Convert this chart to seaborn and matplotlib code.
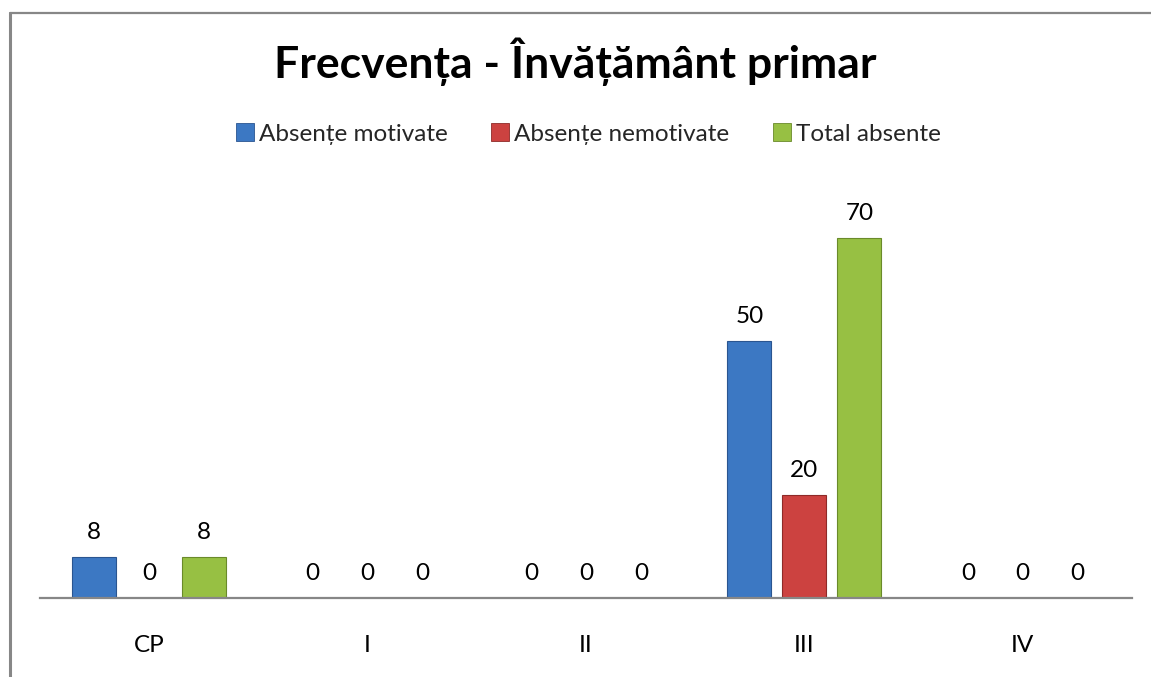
import matplotlib
matplotlib.use("Agg")
import matplotlib.pyplot as plt
import seaborn as sns
import pandas as pd
from matplotlib.patches import Rectangle

categories = ["CP", "I", "II", "III", "IV"]
series_names = ["Absențe motivate", "Absențe nemotivate", "Total absente"]
motivate = [8, 0, 0, 50, 0]
nemotivate = [0, 0, 0, 20, 0]
total = [8, 0, 0, 70, 0]
colors = ["#3C78C3", "#CC4240", "#97C043"]
edge_colors = ["#2A5590", "#8E2A28", "#6A8A2A"]

rows = []
for name, vals in zip(series_names, [motivate, nemotivate, total]):
    for c, v in zip(categories, vals):
        rows.append({"Clasa": c, "Serie": name, "Valoare": v})
df = pd.DataFrame(rows)

sns.set_theme(style="white")
plt.rcParams['font.family'] = ['Lato', 'DejaVu Sans']

W, H = 1151, 677
fig = plt.figure(figsize=(W / 100, H / 100), dpi=100)
ax = fig.add_axes([40 / W, 1 - 598 / H, (1132 - 40) / W, (598 - 187) / H])

sns.barplot(data=df, x="Clasa", y="Valoare", hue="Serie", order=categories,
            hue_order=series_names, palette=colors, width=0.755, gap=0.2,
            saturation=1, ax=ax, legend=False, errorbar=None)

for i, cont in enumerate(ax.containers):
    for p in cont.patches:
        p.set_edgecolor(edge_colors[i])
        p.set_linewidth(0.8)
    ax.bar_label(cont, labels=[str(int(v)) for v in cont.datavalues],
                 padding=10, fontsize=17.5, color="black")

ax.set_ylim(0, 80)
ax.set_xlim(-0.5, 4.5)
ax.set_xlabel("")
ax.set_ylabel("")
ax.set_yticks([])
ax.tick_params(axis="x", length=0, pad=27, labelsize=17.5, colors="black")
for s in ["left", "right", "top"]:
    ax.spines[s].set_visible(False)
ax.spines["bottom"].set_color("#878787")
ax.spines["bottom"].set_linewidth(1.6)

handles = [Rectangle((0, 0), 1, 1, facecolor=c, edgecolor=e, linewidth=0.6)
           for c, e in zip(colors, edge_colors)]
fig.legend(handles, series_names, loc="center", bbox_to_anchor=(0.5113, 1 - 134 / H),
           ncol=3, frameon=False, fontsize=17.5, handlelength=0.74, handleheight=0.74,
           handletextpad=0.2, columnspacing=1.8, borderpad=0, borderaxespad=0)

fig.text(0.5, 1 - 78 / H, "Frecvența - Învățământ primar", ha="center", va="baseline",
         fontsize=32, fontweight="bold", color="black")

# outer chart border
fig.add_artist(plt.Line2D([9.5 / W, 9.5 / W], [1 - 12.5 / H, 0], transform=fig.transFigure,
                          color="#878787", linewidth=2.2))
fig.add_artist(plt.Line2D([9.5 / W, 1], [1 - 13 / H, 1 - 13 / H], transform=fig.transFigure,
                          color="#878787", linewidth=1.6))

fig.savefig("out.png", dpi=100, facecolor="white")
